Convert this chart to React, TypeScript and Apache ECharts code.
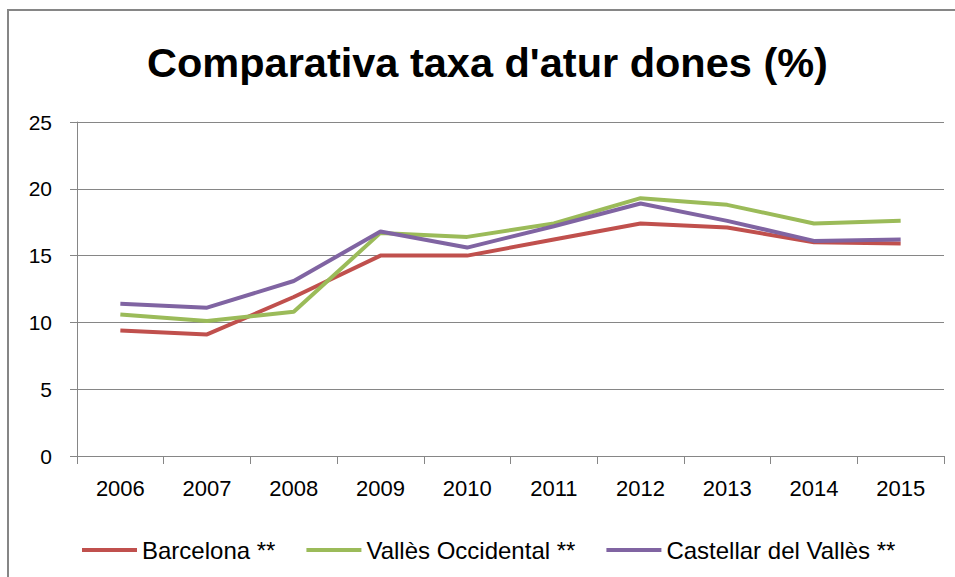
import React, { useEffect, useRef } from "react";
import * as echarts from "echarts";

const years = ["2006", "2007", "2008", "2009", "2010", "2011", "2012", "2013", "2014", "2015"];
const barcelona = [9.4, 9.1, 11.9, 15.0, 15.0, 16.2, 17.4, 17.1, 16.0, 15.9];
const vallesOccidental = [10.6, 10.1, 10.8, 16.7, 16.4, 17.4, 19.3, 18.8, 17.4, 17.6];
const castellar = [11.4, 11.1, 13.1, 16.8, 15.6, 17.2, 18.9, 17.6, 16.1, 16.2];
const seriesNames = ["Barcelona **", "Vallès Occidental **", "Castellar del Vallès **"];
const colors = ["#C0504D", "#9BBB59", "#8064A2"];
const titleText = "Comparativa taxa d'atur dones (%)";

export default function App() {
  const ref = useRef<HTMLDivElement>(null);
  useEffect(() => {
    document.body.style.margin = "0";
    const chart = echarts.init(ref.current!, undefined, { renderer: "svg" });
    const font = "'Liberation Sans', Arial, sans-serif";
    const data = [barcelona, vallesOccidental, castellar];
    chart.setOption({
      animation: false,
      backgroundColor: "#ffffff",
      title: {
        text: titleText,
        left: 142,
        top: 36,
        textStyle: { fontFamily: font, fontSize: 41.5, fontWeight: "bold", color: "#000" },
      },
      graphic: [
        {
          type: "rect",
          shape: { x: 8, y: 10, width: 2000, height: 2000 },
          style: { fill: "none", stroke: "#868686", lineWidth: 2 },
          silent: true,
          z: -1,
        },
      ],
      legend: {
        top: 533,
        left: 77,
        itemWidth: 55,
        itemHeight: 4,
        itemGap: 31,
        icon: "rect",
        data: seriesNames,
        textStyle: { fontFamily: font, fontSize: 24, color: "#000" },
      },
      grid: { left: 77, right: 11, top: 122, bottom: 121 },
      xAxis: {
        type: "category",
        data: years,
        boundaryGap: true,
        axisLine: { lineStyle: { color: "#868686", width: 1 } },
        axisTick: { show: true, length: 8, lineStyle: { color: "#868686" } },
        axisLabel: { fontFamily: font, fontSize: 22, color: "#000", margin: 21 },
      },
      yAxis: {
        type: "value",
        min: 0,
        max: 25,
        interval: 5,
        axisLine: { show: true, lineStyle: { color: "#868686", width: 1 } },
        axisTick: { show: true, length: 7, lineStyle: { color: "#868686" } },
        splitLine: { show: true, lineStyle: { color: "#868686", width: 1 } },
        axisLabel: { fontFamily: font, fontSize: 21, color: "#000", margin: 25 },
      },
      series: seriesNames.map((name, i) => ({
        name,
        type: "line",
        data: data[i],
        color: colors[i],
        symbol: "none",
        lineStyle: { width: 4, color: colors[i] },
      })),
    });
    return () => chart.dispose();
  }, []);
  return <div ref={ref} style={{ width: 955, height: 577 }} />;
}
